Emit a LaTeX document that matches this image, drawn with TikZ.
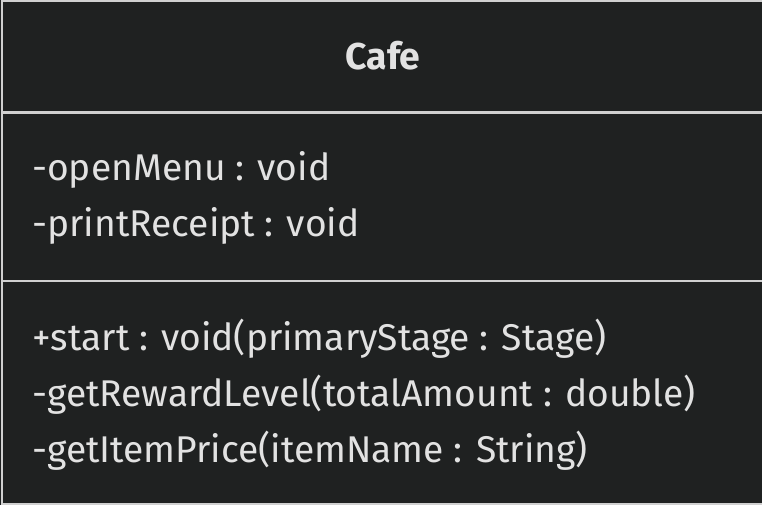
\documentclass[tikz,border=0pt]{standalone}
\usepackage{fontspec}
\setmainfont{Fira Sans}
\definecolor{bgc}{HTML}{1F2121}
\definecolor{linec}{HTML}{D0D0D0}
\definecolor{txtc}{HTML}{E2E2E2}
\tikzset{
  member/.style={anchor=base west, inner sep=0pt, text=txtc, font=\fontsize{27.9}{32}\selectfont},
  title/.style={anchor=base, inner sep=0pt, text=txtc, font=\fontsize{28}{32}\selectfont\bfseries},
  frame/.style={draw=linec, line width=1.6pt},
  sep/.style={draw=linec, line width=1.6pt}
}
\begin{document}
\begin{tikzpicture}[x=0.75pt,y=-0.75pt]
\useasboundingbox (0,0) rectangle (762,505);
\fill[bgc] (0,0) rectangle (762,505);
\coordinate (tl) at (2,1);
\coordinate (bl) at (2,504);
\coordinate (tr) at (763,1);
\coordinate (br) at (763,504);
\draw[frame] (tr) -- (tl) -- (bl) -- (br);
\coordinate (s1l) at (2,112.5);
\coordinate (s1r) at (763,112.5);
\coordinate (s2l) at (2,281);
\coordinate (s2r) at (763,281);
\draw[sep] (s1l) -- (s1r);
\draw[sep] (s2l) -- (s2r);
\node[title] (cafe) at (383,70) {Cafe};
\node[member] (a1) at (32,181) {-openMenu : void};
\node[member] (a2) at (32,237) {-printReceipt : void};
\node[member] (m1) at (32,350) {+start : void(primaryStage : Stage)};
\node[member] (m2) at (32,406) {-getRewardLevel(totalAmount : double)};
\node[member] (m3) at (32,462) {-getItemPrice(itemName : String)};
\end{tikzpicture}
\end{document}
